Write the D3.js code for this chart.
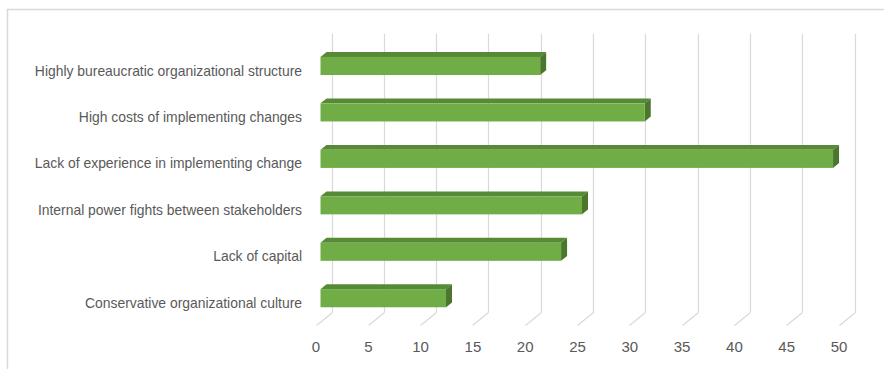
<!DOCTYPE html>
<html>
<head>
<meta charset="utf-8">
<script src="https://cdn.jsdelivr.net/npm/d3@7"></script>
<style>
  body { margin: 0; background: #fff; }
  svg { display: block; }
</style>
</head>
<body>
<div id="chart"></div>
<script>
// data
const categories = [
  'Highly bureaucratic organizational structure',
  'High costs of implementing changes',
  'Lack of experience in implementing change',
  'Internal power fights between stakeholders',
  'Lack of capital',
  'Conservative organizational culture'
];
const values = [21, 31, 49, 25, 23, 12];
const tickValues = [0, 5, 10, 15, 20, 25, 30, 35, 40, 45, 50];

const width = 884;
const height = 369;

// 3D look: back wall is shifted right/up from the front plane
const depth = { dx: 16, dy: -13 };
const barFront = 0.3125; // bar sits in the middle of the depth
const barBack = 0.6875;

const svg = d3.select('#chart')
  .append('svg')
  .attr('width', width)
  .attr('height', height);

// outer chart border (runs off the page right and bottom)
svg.append('rect')
  .attr('x', 7.5)
  .attr('y', 9.5)
  .attr('width', 900)
  .attr('height', 400)
  .attr('fill', 'none')
  .attr('stroke', '#d9d9d9')
  .attr('stroke-width', 1.5);

const x = d3.scaleLinear()
  .domain([0, 50])
  .range([315.5, 838.5]);

const y = d3.scaleBand()
  .domain(categories)
  .range([46.8, 325.5])
  .padding(0);

const floorY = 325.5;
const topY = 46.8;

// gridlines on the back wall + floor diagonals
const grid = svg.append('g').attr('id', 'grid');
tickValues.forEach(t => {
  const xf = Math.round(x(t)) + 0.5;
  const xb = xf + depth.dx;
  grid.append('line')
    .attr('x1', xb).attr('x2', xb)
    .attr('y1', topY + depth.dy).attr('y2', floorY + depth.dy)
    .attr('stroke', '#d9d9d9')
    .attr('stroke-width', 1.2);
  grid.append('line')
    .attr('x1', xb).attr('y1', floorY + depth.dy)
    .attr('x2', xf).attr('y2', floorY)
    .attr('stroke', '#d9d9d9')
    .attr('stroke-width', 1.2);
});

// bars
const barH = y.bandwidth() * 0.39;
const fx = depth.dx * barFront, fy = depth.dy * barFront;
const bx = depth.dx * barBack, by = depth.dy * barBack;

const bars = svg.append('g').attr('id', 'bars');
categories.forEach((c, i) => {
  const cy = y(c) + y.bandwidth() / 2 + fy;
  const x0 = x(0) + fx;
  const x1 = x(values[i]) + fx;
  const yt = cy - barH / 2;
  const yb = cy + barH / 2;
  const ox = bx - fx, oy = by - fy;

  // top face
  bars.append('path')
    .attr('d', `M${x0},${yt}L${x0 + ox},${yt + oy}L${x1 + ox},${yt + oy}L${x1},${yt}Z`)
    .attr('fill', '#578a36');
  // end face
  bars.append('path')
    .attr('d', `M${x1},${yt}L${x1 + ox},${yt + oy}L${x1 + ox},${yb + oy}L${x1},${yb}Z`)
    .attr('fill', '#4a762d');
  // front face
  bars.append('rect')
    .attr('x', x0)
    .attr('y', yt)
    .attr('width', x1 - x0)
    .attr('height', barH)
    .attr('fill', '#70ad47');
});

// category labels
svg.append('g')
  .attr('id', 'labels')
  .selectAll('text')
  .data(categories)
  .enter()
  .append('text')
  .attr('x', 302)
  .attr('y', d => y(d) + y.bandwidth() / 2 + 5.5)
  .attr('text-anchor', 'end')
  .attr('fill', '#595959')
  .style('font-family', '"Liberation Sans", Arial, sans-serif')
  .style('font-size', '13.9px')
  .text(d => d);

// value axis labels
const xAxis = d3.axisBottom(x)
  .tickValues(tickValues)
  .tickSize(0)
  .tickPadding(0);

const axisG = svg.append('g')
  .attr('transform', `translate(0,${floorY + 16})`)
  .call(xAxis);
axisG.select('.domain').remove();
axisG.selectAll('text')
  .attr('fill', '#595959')
  .style('font-family', '"Liberation Sans", Arial, sans-serif')
  .style('font-size', '15px');
</script>
</body>
</html>
